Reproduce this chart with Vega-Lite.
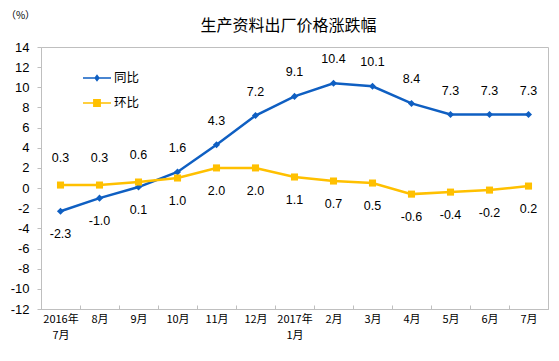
{
  "$schema": "https://vega.github.io/schema/vega-lite/v6.json",
  "width": 507,
  "height": 262,
  "autosize": {"type": "none"},
  "padding": {"left": 41, "top": 47, "right": 11, "bottom": 52},
  "background": "white",
  "config": {
    "view": {"stroke": "#BFBFBF", "strokeWidth": 1},
    "axis": {"labelColor": "#000000", "domainColor": "#BFBFBF", "tickColor": "#BFBFBF", "grid": false},
    "axisY": {
      "labelOverlap": false,
      "labelFont": "Liberation Sans",
      "labelFontSize": 13,
      "labelPadding": 8,
      "tickSize": 4,
      "titleFont": "Noto Sans CJK SC",
      "titleFontSize": 10,
      "titleFontWeight": "normal",
      "titleColor": "#000000",
      "titleAngle": 0,
      "titleAlign": "center",
      "titleBaseline": "middle",
      "titleX": -21,
      "titleY": -32
    },
    "locale": {"number": {"decimal": ".", "thousands": ",", "grouping": [3], "currency": ["", ""], "minus": "-"}}
  },
  "title": {
    "text": "生产资料出厂价格涨跌幅",
    "font": "Noto Sans CJK SC",
    "fontSize": 16,
    "fontWeight": "normal",
    "color": "#000000",
    "anchor": "middle",
    "frame": "group",
    "offset": -24,
    "dx": -6
  },
  "data": {
    "values": [
      {"month": "2016年\n7月", "同比": -2.3, "环比": 0.3},
      {"month": "8月", "同比": -1.0, "环比": 0.3},
      {"month": "9月", "同比": 0.1, "环比": 0.6},
      {"month": "10月", "同比": 1.6, "环比": 1.0},
      {"month": "11月", "同比": 4.3, "环比": 2.0},
      {"month": "12月", "同比": 7.2, "环比": 2.0},
      {"month": "2017年\n1月", "同比": 9.1, "环比": 1.1},
      {"month": "2月", "同比": 10.4, "环比": 0.7},
      {"month": "3月", "同比": 10.1, "环比": 0.5},
      {"month": "4月", "同比": 8.4, "环比": -0.6},
      {"month": "5月", "同比": 7.3, "环比": -0.4},
      {"month": "6月", "同比": 7.3, "环比": -0.2},
      {"month": "7月", "同比": 7.3, "环比": 0.2}
    ]
  },
  "encoding": {
    "x": {
      "field": "month",
      "type": "ordinal",
      "sort": null,
      "scale": {"type": "band", "paddingInner": 0, "paddingOuter": 0},
      "axis": {
        "title": null,
        "labelAngle": 0,
        "labelExpr": "split(datum.label, '\\n')",
        "labelFont": "Noto Sans CJK SC",
        "labelFontSize": 11,
        "labelLineHeight": 16,
        "labelBaseline": "top",
        "labelPadding": 8,
        "tickBand": "extent",
        "tickSize": -4,
        "domainColor": "#BFBFBF"
      }
    }
  },
  "layer": [
    {
      "transform": [{"fold": ["同比", "环比"], "as": ["series", "value"]}],
      "mark": {"type": "line", "strokeWidth": 2.5},
      "encoding": {
        "y": {
          "field": "value",
          "type": "quantitative",
          "title": "（%）",
          "scale": {"domain": [-12, 14], "nice": false, "zero": false},
          "axis": {"values": [-12, -10, -8, -6, -4, -2, 0, 2, 4, 6, 8, 10, 12, 14]}
        },
        "color": {
          "field": "series",
          "type": "nominal",
          "scale": {"domain": ["同比", "环比"], "range": ["#0F5FC2", "#FFC000"]},
          "legend": {
            "orient": "none",
            "legendX": 42,
            "legendY": 17,
            "title": null,
            "symbolSize": 784,
            "symbolStrokeWidth": 0,
            "rowPadding": 4,
            "labelOffset": 3,
            "labelFont": "Noto Sans CJK SC",
            "labelFontSize": 12.5,
            "labelColor": "#000000",
            "encode": {
              "symbols": {
                "update": {
                  "shape": {"signal": "datum.value === '同比' ? 'M-1,-0.05H1V0.05H-1Z M0,-0.27L0.2,0L0,0.27L-0.2,0Z' : 'M-1,-0.05H1V0.05H-1Z M-0.28,-0.28H0.28V0.28H-0.28Z'"},
                  "fill": {"signal": "scale('color', datum.value)"},
                  "fillOpacity": {"value": 1},
                  "strokeWidth": {"value": 0}
                }
              }
            }
          }
        }
      }
    },
    {
      "mark": {"type": "point", "filled": true, "opacity": 1, "size": 50, "shape": "diamond", "color": "#0F5FC2"},
      "encoding": {
        "y": {"field": "同比", "type": "quantitative", "title": "（%）", "axis": {"values": [-12, -10, -8, -6, -4, -2, 0, 2, 4, 6, 8, 10, 12, 14]}}
      }
    },
    {
      "mark": {"type": "point", "filled": true, "opacity": 1, "size": 50, "shape": "square", "color": "#FFC000"},
      "encoding": {
        "y": {"field": "环比", "type": "quantitative", "title": "（%）", "axis": {"values": [-12, -10, -8, -6, -4, -2, 0, 2, 4, 6, 8, 10, 12, 14]}}
      }
    },
    {
      "transform": [{"filter": "datum['同比'] >= datum['环比']"}],
      "mark": {"type": "text", "dy": -24, "font": "Liberation Sans", "fontSize": 12.5, "color": "#000000"},
      "encoding": {
        "y": {"field": "同比", "type": "quantitative", "title": "（%）", "axis": {"values": [-12, -10, -8, -6, -4, -2, 0, 2, 4, 6, 8, 10, 12, 14]}},
        "text": {"field": "同比", "type": "quantitative", "format": ".1f"}
      }
    },
    {
      "transform": [{"filter": "datum['同比'] < datum['环比']"}],
      "mark": {"type": "text", "dy": 23, "font": "Liberation Sans", "fontSize": 12.5, "color": "#000000"},
      "encoding": {
        "y": {"field": "同比", "type": "quantitative", "title": "（%）", "axis": {"values": [-12, -10, -8, -6, -4, -2, 0, 2, 4, 6, 8, 10, 12, 14]}},
        "text": {"field": "同比", "type": "quantitative", "format": ".1f"}
      }
    },
    {
      "transform": [{"filter": "datum['环比'] > datum['同比']"}],
      "mark": {"type": "text", "dy": -27, "font": "Liberation Sans", "fontSize": 12.5, "color": "#000000"},
      "encoding": {
        "y": {"field": "环比", "type": "quantitative", "title": "（%）", "axis": {"values": [-12, -10, -8, -6, -4, -2, 0, 2, 4, 6, 8, 10, 12, 14]}},
        "text": {"field": "环比", "type": "quantitative", "format": ".1f"}
      }
    },
    {
      "transform": [{"filter": "datum['环比'] <= datum['同比']"}],
      "mark": {"type": "text", "dy": 23, "font": "Liberation Sans", "fontSize": 12.5, "color": "#000000"},
      "encoding": {
        "y": {"field": "环比", "type": "quantitative", "title": "（%）", "axis": {"values": [-12, -10, -8, -6, -4, -2, 0, 2, 4, 6, 8, 10, 12, 14]}},
        "text": {"field": "环比", "type": "quantitative", "format": ".1f"}
      }
    }
  ]
}
